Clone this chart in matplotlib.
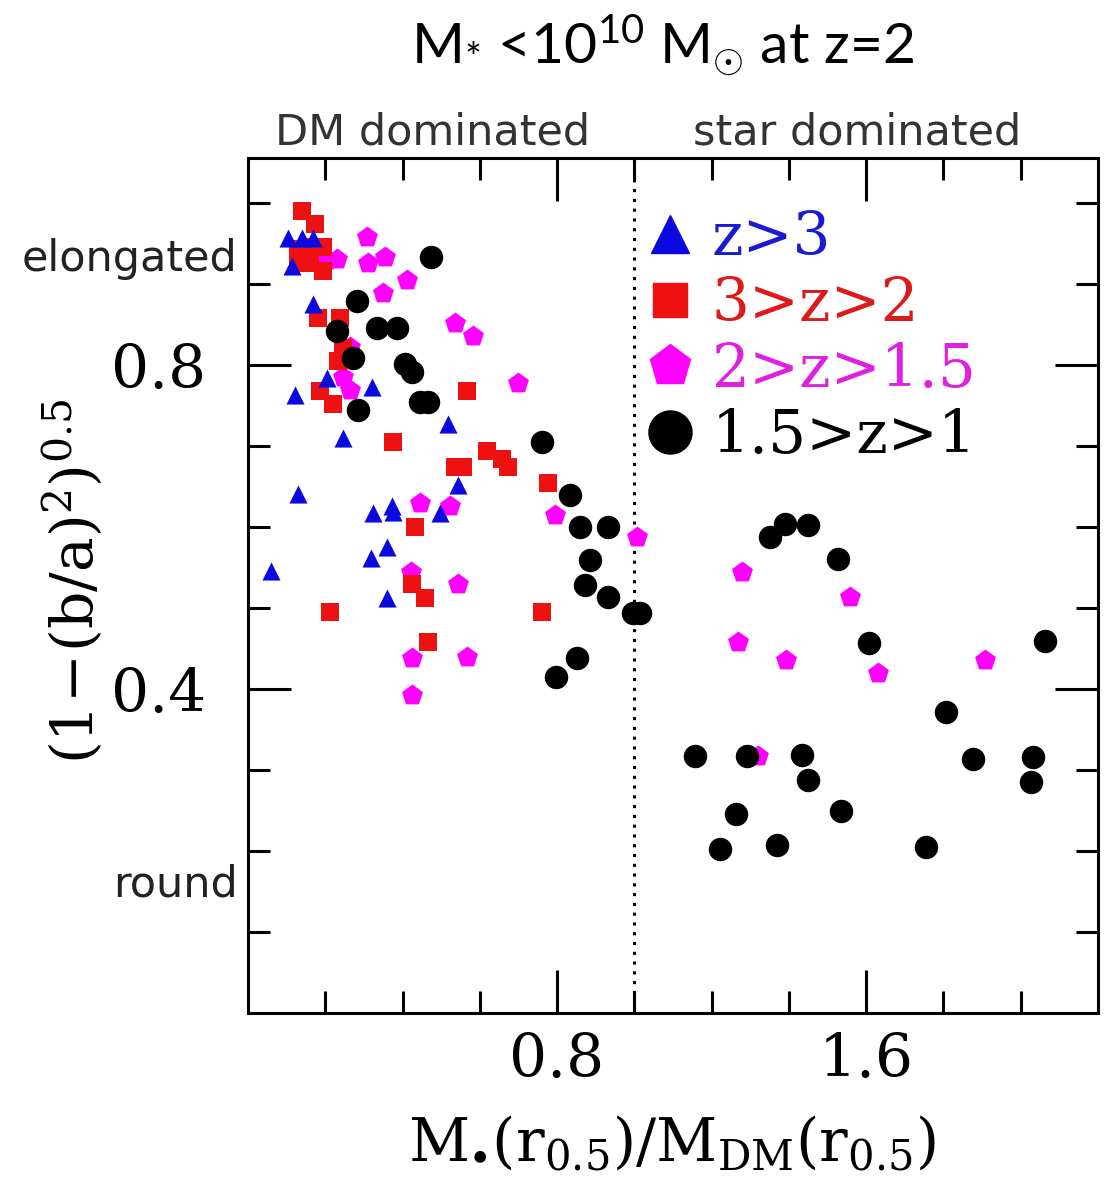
import matplotlib
matplotlib.use("Agg")
import matplotlib.pyplot as plt
from matplotlib.lines import Line2D
from matplotlib.ticker import FixedLocator, FixedFormatter
import matplotlib.transforms as mtransforms

plt.rcParams['mathtext.fontset'] = 'custom'
plt.rcParams['mathtext.rm'] = 'Lato'
plt.rcParams['mathtext.it'] = 'Lato:italic'

# ---------------- data ----------------
labels = ["z>3", "3>z>2", "2>z>1.5", "1.5>z>1"]

tri_x = [0.104, 0.139, 0.168, 0.113, 0.168, 0.122, 0.204, 0.320, 0.246, 0.518,
         0.129, 0.372, 0.375, 0.323, 0.497, 0.543, 0.359, 0.318, 0.059, 0.359]
tri_y = [0.956, 0.956, 0.956, 0.922, 0.875, 0.762, 0.784, 0.772, 0.709, 0.727,
         0.641, 0.626, 0.618, 0.617, 0.617, 0.652, 0.575, 0.561, 0.546, 0.512]

sq_x = [0.139, 0.173, 0.129, 0.160, 0.194, 0.129, 0.160, 0.194, 0.181, 0.238,
        0.246, 0.233, 0.186, 0.220, 0.566, 0.375, 0.618, 0.657, 0.673, 0.536,
        0.556, 0.776, 0.432, 0.424, 0.458, 0.212, 0.760, 0.466]
sq_y = [0.990, 0.974, 0.943, 0.945, 0.945, 0.926, 0.926, 0.916, 0.857, 0.857,
        0.821, 0.805, 0.768, 0.752, 0.768, 0.704, 0.694, 0.684, 0.674, 0.674,
        0.674, 0.654, 0.600, 0.530, 0.512, 0.495, 0.495, 0.458]

pent_x = [0.307, 0.230, 0.204, 0.311, 0.355, 0.411, 0.349, 0.536, 0.582, 0.699,
          0.264, 0.246, 0.264, 0.445, 0.523, 0.795, 1.006, 0.421, 0.543, 0.424,
          0.566, 0.424, 1.278, 1.558, 1.268, 1.392, 1.630, 1.907, 1.320]
pent_y = [0.957, 0.931, 0.929, 0.926, 0.933, 0.904, 0.889, 0.851, 0.836, 0.778,
          0.822, 0.785, 0.769, 0.629, 0.626, 0.615, 0.587, 0.544, 0.529, 0.438,
          0.439, 0.392, 0.544, 0.513, 0.458, 0.436, 0.420, 0.436, 0.317]

circ_x = [0.475, 0.281, 0.230, 0.333, 0.385, 0.272, 0.406, 0.424, 0.445, 0.466,
          0.285, 0.760, 0.833, 0.859, 0.932, 0.885, 0.872, 0.932, 0.996, 1.014,
          0.851, 0.797, 1.351, 1.390, 1.449, 1.527, 1.607, 2.063, 1.806, 1.157,
          1.291, 1.433, 1.449, 1.876, 2.032, 2.028, 1.263, 1.536, 1.223, 1.369,
          1.756]
circ_y = [0.933, 0.879, 0.842, 0.845, 0.845, 0.808, 0.801, 0.791, 0.754, 0.754,
          0.744, 0.704, 0.639, 0.600, 0.600, 0.559, 0.528, 0.513, 0.494, 0.494,
          0.438, 0.415, 0.587, 0.604, 0.602, 0.560, 0.457, 0.459, 0.372, 0.317,
          0.317, 0.318, 0.287, 0.314, 0.316, 0.285, 0.245, 0.249, 0.202, 0.207,
          0.205]

x_major = [0.8, 1.6]
x_minor = [0.2, 0.4, 0.6, 1.0, 1.2, 1.4, 1.8, 2.0]
y_major = [0.4, 0.8]
y_minor = [0.1, 0.2, 0.3, 0.5, 0.6, 0.7, 0.9, 1.0]
x_ticklabels = ["0.8", "1.6"]
y_ticklabels = ["0.4", "0.8"]
divider_x = 1.0

# ---------------- figure ----------------
fig = plt.figure(figsize=(11.07, 11.99), dpi=100)
ax = fig.add_axes([0.2240, 0.1551, 0.7678, 0.7131])

c_blue, c_red, c_mag, c_blk = '#0a0ae0', '#ee1111', '#ff00ff', '#000000'

ax.scatter(pent_x, pent_y, marker='p', s=250, color=c_mag, linewidths=0, zorder=3)
ax.scatter(sq_x, sq_y, marker='s', s=155, color=c_red, linewidths=0, zorder=3)
ax.scatter(tri_x, tri_y, marker='^', s=170, color=c_blue, linewidths=0, zorder=3)
ax.scatter(circ_x, circ_y, marker='o', s=285, color=c_blk, linewidths=0, zorder=4)

ax.axvline(divider_x, color='black', linestyle=(0, (1, 2.2)), linewidth=2.2, zorder=2)

ax.set_xlim(0, 2.2)
ax.set_ylim(0, 1.055)

for sp in ax.spines.values():
    sp.set_linewidth(2.2)

ax.xaxis.set_major_locator(FixedLocator(x_major))
ax.xaxis.set_major_formatter(FixedFormatter(x_ticklabels))
ax.xaxis.set_minor_locator(FixedLocator(x_minor))
ax.yaxis.set_major_locator(FixedLocator(y_major))
ax.yaxis.set_major_formatter(FixedFormatter(y_ticklabels))
ax.yaxis.set_minor_locator(FixedLocator(y_minor))

ax.tick_params(which='both', direction='in', top=True, right=True, width=2.2)
ax.tick_params(which='major', length=31)
ax.tick_params(which='minor', length=16)
ax.tick_params(axis='x', which='major', pad=13, labelsize=43)
ax.tick_params(axis='y', which='major', pad=30, labelsize=43)
for lab in ax.get_xticklabels() + ax.get_yticklabels():
    lab.set_family('DejaVu Serif')

ax.set_xlabel(r'$\mathregular{M_{\bullet}(r_{0.5})/M_{DM}(r_{0.5})}$',
              fontsize=43, family='DejaVu Serif', math_fontfamily='dejavuserif',
              va='top')
ax.xaxis.set_label_coords(0.499, -0.118)
ax.set_ylabel(r'$\mathregular{(1\!-\!(b/a)^2)^{0.5}}$',
              fontsize=42, family='DejaVu Serif', math_fontfamily='dejavuserif')
ax.yaxis.set_label_coords(-0.168, 0.505)

trans = mtransforms.blended_transform_factory(ax.transAxes, ax.transData)
ax.text(-0.012, 0.931, 'elongated', transform=trans, ha='right', va='center',
        fontsize=31, family='DejaVu Sans', color='#222222')
ax.text(-0.012, 0.158, 'round', transform=trans, ha='right', va='center',
        fontsize=31, family='DejaVu Sans', color='#222222')

trans2 = mtransforms.blended_transform_factory(ax.transData, ax.transAxes)
ax.text(0.479, 1.03, 'DM dominated', transform=trans2, ha='center', va='center',
        fontsize=31, family='DejaVu Sans', color='#333333')
ax.text(1.576, 1.03, 'star dominated', transform=trans2, ha='center', va='center',
        fontsize=31, family='DejaVu Sans', color='#333333')

fig.text(0.598, 0.9625, r'M$_{*}$ <10$^{10}$ M$_{\odot}$ at z=2', ha='center',
         va='center', fontsize=41, family='Lato', math_fontfamily='custom')

handles = [
    Line2D([], [], marker='^', linestyle='none', markersize=28, color=c_blue),
    Line2D([], [], marker='s', linestyle='none', markersize=24, color=c_red),
    Line2D([], [], marker='p', linestyle='none', markersize=31, color=c_mag),
    Line2D([], [], marker='o', linestyle='none', markersize=31, color=c_blk),
]
leg = ax.legend(handles, labels, loc='upper left', bbox_to_anchor=(0.468, 0.94),
                frameon=False, prop={'family': 'DejaVu Serif', 'size': 43},
                handlelength=0.8, handletextpad=0.3, labelspacing=0.13,
                borderpad=0, borderaxespad=0,
                labelcolor=['#1a1ad0', '#dd1a1a', '#e020e0', '#000000'])

fig.savefig('out.png', dpi=100)
